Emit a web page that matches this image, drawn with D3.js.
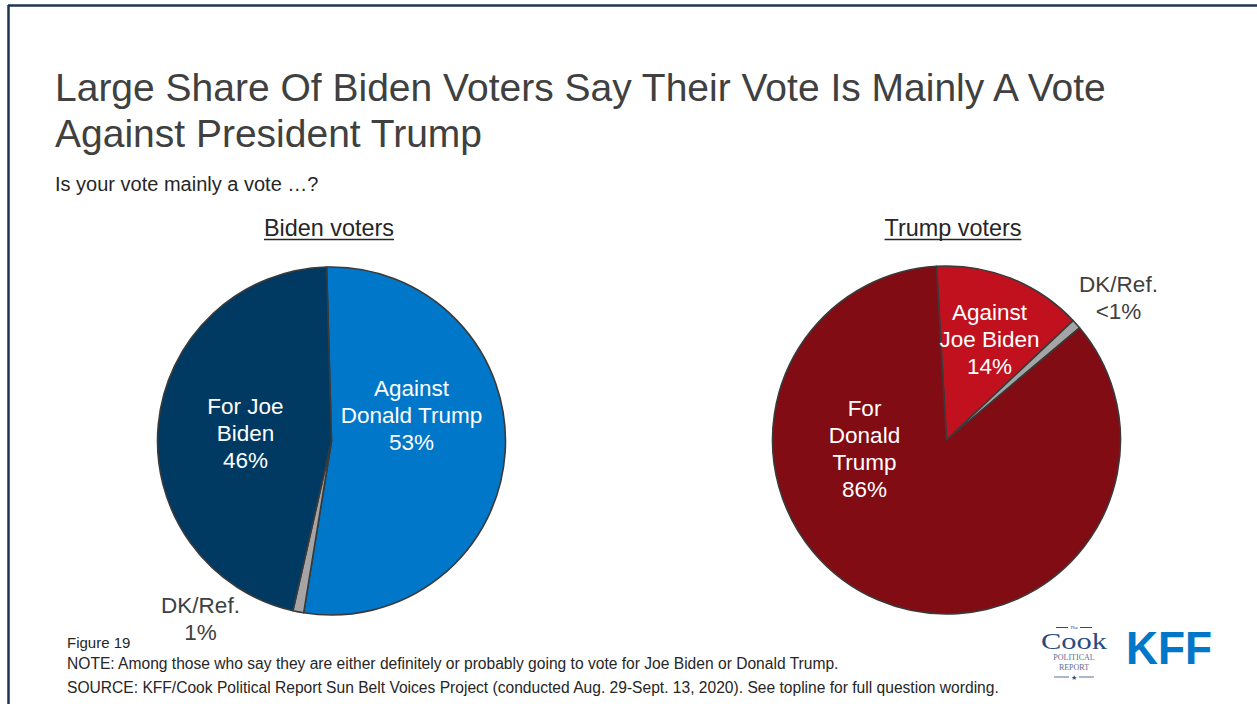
<!DOCTYPE html>
<html>
<head>
<meta charset="utf-8">
<script src="https://cdn.jsdelivr.net/npm/d3@7"></script>
<style>
  html, body { margin: 0; padding: 0; background: #fff; }
  svg { display: block; font-family: "Liberation Sans", Arial, sans-serif; }
</style>
</head>
<body>
<svg id="chart" width="1257" height="704"></svg>
<script>
// ---- Data ----
const bidenCategories = ["Against Donald Trump", "DK/Ref.", "For Joe Biden"];
const bidenValues = [53, 1, 46];
const bidenLabels = [["Against", "Donald Trump", "53%"], ["DK/Ref.", "1%"], ["For Joe", "Biden", "46%"]];

const trumpCategories = ["Against Joe Biden", "DK/Ref.", "For Donald Trump"];
const trumpValues = [14, 0.9, 86];
const trumpLabels = [["Against", "Joe Biden", "14%"], ["DK/Ref.", "<1%"], ["For", "Donald", "Trump", "86%"]];

const bidenColors = ["#0077C8", "#A5A5A5", "#003A63"];
const trumpColors = ["#C2111E", "#A5A5A5", "#820C13"];

// ---- Layout ----
const svg = d3.select("#chart");
const W = 1257, H = 704;

// frame lines
svg.append("line").attr("x1", 8).attr("x2", W).attr("y1", 5.5).attr("y2", 5.5)
  .attr("stroke", "#1E3552").attr("stroke-width", 2.5);
svg.append("line").attr("x1", 8.5).attr("x2", 8.5).attr("y1", 5).attr("y2", H)
  .attr("stroke", "#1E3552").attr("stroke-width", 2.5);

// title
const title = svg.append("text").attr("x", 55).attr("fill", "#404040")
  .style("font-size", "39px");
title.append("tspan").attr("x", 55).attr("y", 101).text("Large Share Of Biden Voters Say Their Vote Is Mainly A Vote");
title.append("tspan").attr("x", 55).attr("y", 147).text("Against President Trump");

svg.append("text").attr("x", 55).attr("y", 191).attr("fill", "#262626")
  .style("font-size", "20px").text("Is your vote mainly a vote …?");

function drawPie(cx, cy, r, values, colors, labels, labelOffsets, startDeg, header, headerX) {
  const pie = d3.pie().sort(null).value(d => d)
    .startAngle(startDeg * Math.PI / 180)
    .endAngle(startDeg * Math.PI / 180 + 2 * Math.PI);
  const arc = d3.arc().innerRadius(0).outerRadius(r);
  const g = svg.append("g").attr("transform", `translate(${cx},${cy})`);
  g.selectAll("path").data(pie(values)).join("path")
    .attr("d", arc)
    .attr("fill", (d, i) => colors[i])
    .attr("stroke", "#3A3A3A")
    .attr("stroke-width", 1.6)
    .attr("stroke-linejoin", "round");

  labels.forEach((lines, i) => {
    const off = labelOffsets[i];
    const t = g.append("text").attr("text-anchor", "middle")
      .attr("fill", off.color).style("font-size", "22.5px");
    lines.forEach((ln, j) => {
      t.append("tspan").attr("x", off.dx).attr("y", off.dy + j * 27 + 8).text(ln);
    });
  });

  // header (underlined)
  const h = svg.append("text").attr("x", headerX).attr("y", 236)
    .attr("text-anchor", "middle").attr("fill", "#262626")
    .style("font-size", "23.4px").text(header);
  const bb = h.node().getBBox();
  svg.append("line").attr("x1", bb.x).attr("x2", bb.x + bb.width)
    .attr("y1", 239.5).attr("y2", 239.5).attr("stroke", "#262626").attr("stroke-width", 1.3);
}

drawPie(331.5, 441, 174, bidenValues, bidenColors, bidenLabels,
  [{dx: 80, dy: -53, color: "#fff"}, {dx: -131, dy: 164, color: "#404040"}, {dx: -86, dy: -35, color: "#fff"}],
  -1.6, "Biden voters", 329);

drawPie(946.5, 440, 174, trumpValues, trumpColors, trumpLabels,
  [{dx: 43, dy: -128, color: "#fff"}, {dx: 172, dy: -156, color: "#404040"}, {dx: -82, dy: -32, color: "#fff"}],
  -3.3, "Trump voters", 953);

// footer
svg.append("text").attr("x", 67).attr("y", 648).attr("fill", "#262626")
  .style("font-size", "15px").text("Figure 19");
svg.append("text").attr("x", 67).attr("y", 669).attr("fill", "#262626")
  .style("font-size", "15.6px")
  .text("NOTE: Among those who say they are either definitely or probably going to vote for Joe Biden or Donald Trump.");
svg.append("text").attr("x", 67).attr("y", 693).attr("fill", "#262626")
  .style("font-size", "15.6px")
  .text("SOURCE: KFF/Cook Political Report Sun Belt Voices Project (conducted Aug. 29-Sept. 13, 2020). See topline for full question wording.");

// logos as text
const cook = svg.append("g").attr("fill", "#2B4B80").style("font-family", "'Liberation Serif', 'DejaVu Serif', serif");
cook.append("text").attr("x", 1074).attr("y", 629).attr("text-anchor", "middle")
  .style("font-size", "5px").style("font-style", "italic").text("The");
cook.append("line").attr("x1", 1056).attr("x2", 1068).attr("y1", 627.5).attr("y2", 627.5).attr("stroke", "#2B4B80").attr("stroke-width", 1);
cook.append("line").attr("x1", 1080).attr("x2", 1092).attr("y1", 627.5).attr("y2", 627.5).attr("stroke", "#2B4B80").attr("stroke-width", 1);
cook.append("text").attr("x", 1074).attr("y", 649).attr("text-anchor", "middle")
  .style("font-size", "24px").attr("textLength", 66).attr("lengthAdjust", "spacingAndGlyphs").text("Cook");
cook.append("text").attr("x", 1074).attr("y", 660).attr("text-anchor", "middle")
  .style("font-size", "8px").attr("fill", "#5A6E96").text("POLITICAL");
cook.append("text").attr("x", 1074).attr("y", 669.5).attr("text-anchor", "middle")
  .style("font-size", "8px").attr("fill", "#5A6E96").text("REPORT");
cook.append("line").attr("x1", 1054).attr("x2", 1069).attr("y1", 677).attr("y2", 677).attr("stroke", "#5A6E96").attr("stroke-width", 1);
cook.append("line").attr("x1", 1079).attr("x2", 1094).attr("y1", 677).attr("y2", 677).attr("stroke", "#5A6E96").attr("stroke-width", 1);
cook.append("text").attr("x", 1074).attr("y", 680).attr("text-anchor", "middle")
  .style("font-size", "7px").text("★");

svg.append("text").attr("x", 1126).attr("y", 664)
  .attr("fill", "#0077C8").style("font-family", "'Liberation Sans', Arial, sans-serif")
  .style("font-weight", "bold").style("font-size", "47px")
  .attr("textLength", 86).attr("lengthAdjust", "spacingAndGlyphs").text("KFF");
</script>
</body>
</html>
